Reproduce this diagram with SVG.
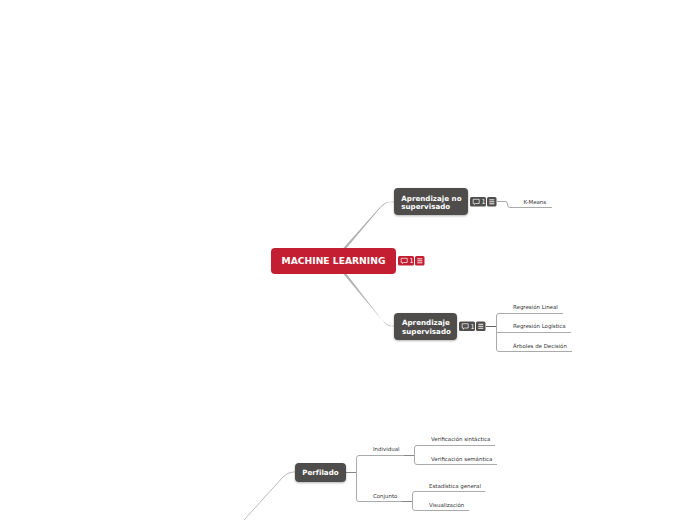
<svg xmlns="http://www.w3.org/2000/svg" width="696" height="520" viewBox="0 0 696 520">
<defs>
<filter id="sh" x="-10%" y="-20%" width="120%" height="150%"><feDropShadow dx="0" dy="1" stdDeviation="1" flood-color="#000" flood-opacity="0.3"/></filter>
<g id="ic"><path d="M2.200 2.300h6v4.200h-3.600l-1.200 1.200v-1.200h-1.200z" fill="none" stroke="#fff" stroke-width="0.7"/><text x="10.500" y="7.300" class="n">1</text></g>
<g id="lst"><path d="M2.300 2.800h5M2.300 4.800h5M2.300 6.800h5" stroke="#fff" stroke-width="0.9" fill="none"/></g>
</defs>
<style>
text{font-family:"DejaVu Sans",Verdana,sans-serif}
.t{font-size:7.1px;font-weight:700;fill:#fff;letter-spacing:0.02px}
.r{font-size:9.2px;font-weight:700;fill:#fff}
.l{font-size:5.45px;fill:#333}
.n{font-size:6.5px;fill:#fff}
.c{fill:none;stroke:#aaa;stroke-width:1}
.d{fill:none;stroke:#666;stroke-width:1}
.m{fill:none;stroke:#888;stroke-width:1}
.dark{fill:#4f4e4c}
.red{fill:#c41e32}
</style>
<rect width="696" height="520" fill="#fff"/>
<g id="connectors">
<path d="M343.500 248L346.500 248L379 209.500Q385 202.500 389 202.300H394V201.700H389Q384.500 201.800 378.300 209Z" fill="#b0b0b0"/>
<path d="M343.500 274L346.500 274L382 320Q387 326.300 391 326.300H394V325.700H391Q387.500 325.600 381.500 319.500Z" fill="#b0b0b0"/>
<path d="M497 201.500H505Q507.500 201.500 507.500 204V205Q507.500 207.500 510 207.500H552" class="c"/>
<path d="M486 326.500H497" class="d"/>
<path d="M563 313.500H499Q496.500 313.500 496.500 316V349Q496.500 351.500 499 351.500H572" class="c"/>
<path d="M496.500 332.500H571" class="c"/>
<path d="M244 520L283 477Q288 472 293 472H296" fill="none" stroke="#bbb" stroke-width="1"/>
<path d="M345 472.500H356.500" class="m"/>
<path d="M404 455.500H359Q356.500 455.500 356.500 458V499Q356.500 501.500 359 501.500H402" class="c"/>
<path d="M404 455.500H415" class="m"/>
<path d="M402 501.500H412.500" class="m"/>
<path d="M495 445.500H417Q414.500 445.500 414.500 448V462Q414.500 464.500 417 464.500H497" class="c"/>
<path d="M485 491.500H415Q412.500 491.500 412.500 494V508Q412.500 510.500 415 510.500H469" class="c"/>
</g>
<g id="root">
<rect x="271" y="248" width="125" height="26" rx="4" class="red"/>
<text class="r" x="333.500" y="264.300" text-anchor="middle">MACHINE LEARNING</text>
<rect x="398" y="256" width="16" height="9.500" rx="1.500" class="red"/><use href="#ic" x="399" y="256"/>
<rect x="415" y="256" width="9.500" height="9.500" rx="1.500" class="red"/><use href="#lst" x="415" y="256"/>
</g>
<g id="n-nosup">
<rect x="394" y="188" width="74" height="27" rx="4" class="dark" filter="url(#sh)"/>
<text class="t" x="401.300" y="200.500">Aprendizaje no</text><text class="t" x="401.300" y="209.300">supervisado</text>
<rect x="470" y="197" width="16" height="9.500" rx="1.500" class="dark"/><use href="#ic" x="471" y="197"/>
<rect x="487" y="197" width="9.500" height="9.500" rx="1.500" class="dark"/><use href="#lst" x="487" y="197"/>
</g>
<g id="n-kmeans"><text class="l" x="523.500" y="204">K-Means</text></g>
<g id="n-sup">
<rect x="394" y="313" width="63" height="27" rx="4" class="dark" filter="url(#sh)"/>
<text class="t" x="402" y="325.300">Aprendizaje</text><text class="t" x="402" y="334">supervisado</text>
<rect x="459" y="321.500" width="16" height="9.500" rx="1.500" class="dark"/><use href="#ic" x="460" y="321.500"/>
<rect x="476" y="321.500" width="9.500" height="9.500" rx="1.500" class="dark"/><use href="#lst" x="476" y="321.500"/>
</g>
<g id="n-reglin"><text class="l" x="513" y="309">Regresión Lineal</text></g>
<g id="n-reglog"><text class="l" x="513" y="328">Regresión Logística</text></g>
<g id="n-arboles"><text class="l" x="513" y="348">Árboles de Decisión</text></g>
<g id="n-perfilado">
<rect x="295" y="463" width="51" height="19" rx="4" class="dark" filter="url(#sh)"/>
<text class="t" x="320.500" y="475" text-anchor="middle">Perfilado</text>
</g>
<g id="n-individual"><text class="l" x="373" y="451">Individual</text></g>
<g id="n-conjunto"><text class="l" x="373" y="498">Conjunto</text></g>
<g id="n-vsin"><text class="l" x="431" y="441">Verificación sintáctica</text></g>
<g id="n-vsem"><text class="l" x="431" y="461">Verificación semántica</text></g>
<g id="n-est"><text class="l" x="429" y="488">Estadística general</text></g>
<g id="n-vis"><text class="l" x="429" y="507">Visualización</text></g>
</svg>
